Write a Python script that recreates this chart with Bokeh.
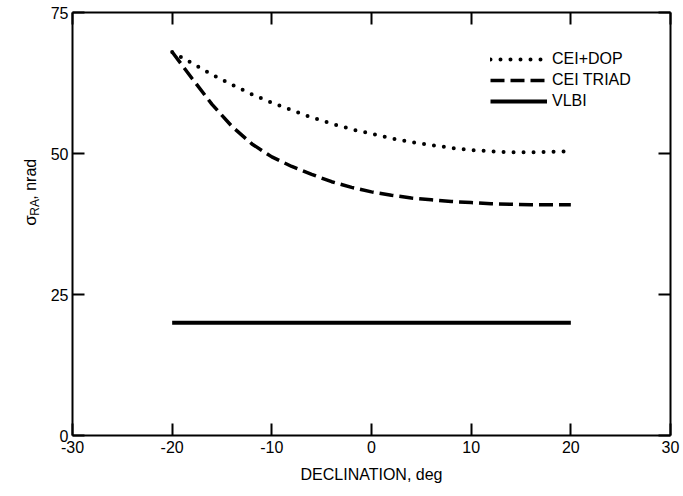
import math
from bokeh.plotting import figure
from bokeh.layouts import row
from bokeh.models import (Range1d, LinearAxis, FixedTicker, CustomJSTickFormatter,
                          Label, Legend, LegendItem)
from bokeh.embed import file_html
from bokeh.resources import INLINE

# ---- data ----
declination = [-20, -18, -16, -14, -12, -10, -8, -6, -4, -2, 0, 2, 4, 6, 8, 10, 12, 14, 16, 18, 20]
cei_dop = [68.0, 66.0, 64.0, 62.2, 60.5, 59.0, 57.7, 56.4, 55.3, 54.3, 53.5,
           52.7, 52.0, 51.5, 51.0, 50.6, 50.4, 50.2, 50.2, 50.3, 50.4]
cei_triad = [68.0, 63.3, 58.7, 54.8, 51.7, 49.4, 47.7, 46.3, 45.0, 44.0, 43.2,
             42.6, 42.1, 41.8, 41.5, 41.3, 41.1, 41.0, 40.9, 40.9, 40.9]
vlbi_x = [-20, 20]
vlbi = [20, 20]
x_ticks = [-30, -20, -10, 0, 10, 20, 30]
y_ticks = [0, 25, 50, 75]
series_names = ["CEI+DOP", "CEI TRIAD", "VLBI"]
y_title = ["σ", "RA", ", nrad"]
x_title = "DECLINATION, deg"

FONT = "Liberation Sans"
FS = "16px"
W, H = 683, 496
TITLE_W = 46

p = figure(width=W - TITLE_W, height=H, output_backend="svg", toolbar_location=None,
           x_range=Range1d(-30, 30), y_range=Range1d(0, 75),
           x_axis_location=None, y_axis_location=None,
           min_border_left=72 - TITLE_W, min_border_right=13,
           min_border_top=12, min_border_bottom=61)
p.outline_line_color = None
p.xgrid.visible = False
p.ygrid.visible = False
p.background_fill_color = "white"
p.border_fill_color = "white"

blank = CustomJSTickFormatter(code="return ''")
plain = CustomJSTickFormatter(code="return String(tick)")

def style(ax, labels=True):
    ax.axis_line_width = 2
    ax.axis_line_color = "black"
    ax.major_tick_in = 12
    ax.major_tick_out = 0
    ax.major_tick_line_width = 2
    ax.major_tick_line_color = "black"
    ax.minor_tick_line_color = None
    ax.major_label_text_font = FONT
    ax.major_label_text_font_size = FS
    ax.major_label_text_color = "black"
    if labels:
        ax.formatter = plain
    else:
        ax.formatter = blank
        ax.major_label_standoff = 0

bottom = LinearAxis(ticker=FixedTicker(ticks=x_ticks))
style(bottom)
bottom.major_label_standoff = 5
bottom.axis_label = x_title
bottom.axis_label_text_font = FONT
bottom.axis_label_text_font_size = FS
bottom.axis_label_text_font_style = "normal"
bottom.axis_label_text_color = "black"
bottom.axis_label_standoff = 10
p.add_layout(bottom, "below")

top = LinearAxis(ticker=FixedTicker(ticks=x_ticks))
style(top, labels=False)
p.add_layout(top, "above")

left = LinearAxis(ticker=FixedTicker(ticks=y_ticks))
style(left)
left.major_label_standoff = 4
p.add_layout(left, "left")

right = LinearAxis(ticker=FixedTicker(ticks=y_ticks))
style(right, labels=False)
p.add_layout(right, "right")

# ---- curves ----
r_dop = p.line(declination, cei_dop, line_color="black", line_width=4,
               line_dash="0 10", line_cap="round")
r_triad = p.line(declination, cei_triad, line_color="black", line_width=3.5,
                 line_dash="14 6")
r_vlbi = p.line(vlbi_x, vlbi, line_color="black", line_width=4)

legend = Legend(items=[LegendItem(label=series_names[0], renderers=[r_dop]),
                       LegendItem(label=series_names[1], renderers=[r_triad]),
                       LegendItem(label=series_names[2], renderers=[r_vlbi])],
                location=(418, 325), glyph_width=57, glyph_height=16,
                label_height=16, label_standoff=5, spacing=3, padding=0, margin=0,
                border_line_color=None, background_fill_alpha=0,
                label_text_font=FONT, label_text_font_size=FS, label_text_color="black")
p.add_layout(legend, "center")

# ---- narrow strip on the left carrying the y-axis title (σ with subscript RA) ----
t = figure(width=TITLE_W, height=H, output_backend="svg", toolbar_location=None,
           x_range=Range1d(0, TITLE_W), y_range=Range1d(0, H),
           x_axis_location=None, y_axis_location=None,
           min_border=0, min_border_left=0, min_border_right=0,
           min_border_top=0, min_border_bottom=0)
t.outline_line_color = None
t.xgrid.visible = False
t.ygrid.visible = False
t.background_fill_color = "white"
t.border_fill_color = "white"

base_x, base_y = 30, H - 250
common = dict(x=base_x, y=base_y, angle=math.pi / 2, text_align="left",
              text_baseline="alphabetic", text_font=FONT, text_color="black")
t.add_layout(Label(text=y_title[0], x_offset=0, y_offset=0, text_font_size="17px", **common))
t.add_layout(Label(text=y_title[1], x_offset=4, y_offset=10, text_font_size="12px", **common))
t.add_layout(Label(text=y_title[2], x_offset=0, y_offset=26, text_font_size=FS, **common))

layout = row(t, p, spacing=0)
open("out.html", "w").write(file_html(layout, INLINE))
